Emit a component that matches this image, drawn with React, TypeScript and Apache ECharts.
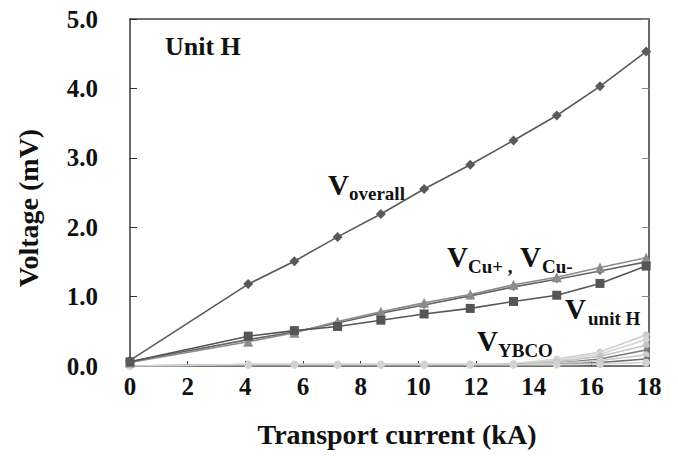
import React, { useEffect, useRef } from "react";
import * as echarts from "echarts";

// Transport current (kA)
const currents = [0, 4.1, 5.7, 7.2, 8.7, 10.2, 11.8, 13.3, 14.8, 16.3, 17.9];
// Voltages (mV)
const vOverall = [0.08, 1.18, 1.51, 1.86, 2.19, 2.55, 2.9, 3.25, 3.61, 4.03, 4.53];
const vCuPlus = [0.05, 0.35, 0.48, 0.64, 0.78, 0.91, 1.03, 1.17, 1.28, 1.42, 1.56];
const vCuMinus = [0.06, 0.38, 0.49, 0.62, 0.76, 0.88, 1.01, 1.14, 1.25, 1.37, 1.5];
const vUnitH = [0.06, 0.43, 0.51, 0.57, 0.66, 0.75, 0.83, 0.93, 1.02, 1.19, 1.44];
const ybcoA = [0.0, 0.02, 0.02, 0.02, 0.02, 0.02, 0.02, 0.03, 0.1, 0.2, 0.45];
const ybcoB = [0.0, 0.02, 0.02, 0.02, 0.02, 0.02, 0.02, 0.03, 0.08, 0.17, 0.38];
const ybcoC = [0.0, 0.02, 0.02, 0.02, 0.02, 0.02, 0.02, 0.02, 0.06, 0.14, 0.3];
const ybcoD = [0.0, 0.01, 0.01, 0.01, 0.01, 0.01, 0.01, 0.02, 0.04, 0.1, 0.23];
const ybcoE = [0.0, 0.02, 0.02, 0.02, 0.02, 0.02, 0.02, 0.02, 0.04, 0.08, 0.16];
const ybcoF = [0.0, 0.01, 0.01, 0.01, 0.01, 0.01, 0.01, 0.01, 0.02, 0.05, 0.1];
const ybcoG = [0.0, 0.02, 0.02, 0.02, 0.02, 0.02, 0.02, 0.02, 0.02, 0.03, 0.05];

const xTicks = [0, 18, 2];
const yTicks = [0, 5, 1];

const FONT = '"Liberation Serif", "Times New Roman", serif';

const pairs = (ys: number[]) => currents.map((x, i) => [x, ys[i]]);

export default function App() {
  const ref = useRef<HTMLDivElement>(null);
  useEffect(() => {
    if (!ref.current) return;
    const chart = echarts.init(ref.current, null, { renderer: "svg" });

    const line = (
      name: string,
      ys: number[],
      color: string,
      symbol: string,
      symbolSize: number,
      z = 2
    ) => ({
      name,
      type: "line",
      data: pairs(ys),
      symbol,
      symbolSize,
      z,
      lineStyle: { color, width: 1.6 },
      itemStyle: { color },
    });

    const txt = (
      text: string,
      x: number,
      y: number,
      size: number,
      extra: any = {}
    ) => ({
      type: "text",
      x,
      y,
      z: 100,
      style: {
        text,
        fontSize: size,
        fontWeight: "bold",
        fontFamily: FONT,
        fill: "#111",
        align: "left",
        verticalAlign: "middle",
        ...extra,
      },
    });

    chart.setOption({
      animation: false,
      backgroundColor: "#fff",
      grid: { left: 130, right: 29, top: 19, bottom: 91, containLabel: false },
      xAxis: [
        {
          type: "value",
          min: xTicks[0],
          max: xTicks[1],
          interval: xTicks[2],
          axisLine: { show: true, onZero: false, lineStyle: { color: "#444", width: 1.6 } },
          axisTick: { show: true, inside: true, length: 5, lineStyle: { color: "#333" } },
          axisLabel: {
            fontSize: 25,
            fontWeight: "bold",
            fontFamily: FONT,
            color: "#111",
            margin: 8,
          },
          splitLine: { show: false },
        },
        {
          type: "value",
          position: "top",
          min: xTicks[0],
          max: xTicks[1],
          interval: xTicks[2],
          axisLine: { show: true, onZero: false, lineStyle: { color: "#444", width: 1.6 } },
          axisTick: { show: false },
          axisLabel: { show: false },
          splitLine: { show: false },
        },
      ],
      yAxis: [
        {
          type: "value",
          min: yTicks[0],
          max: yTicks[1],
          interval: yTicks[2],
          axisLine: { show: true, onZero: false, lineStyle: { color: "#444", width: 1.6 } },
          axisTick: { show: true, inside: true, length: 7, lineStyle: { color: "#333" } },
          axisLabel: {
            fontSize: 25,
            fontWeight: "bold",
            fontFamily: FONT,
            color: "#111",
            margin: 32,
            formatter: (v: number) => v.toFixed(1),
          },
          splitLine: { show: false },
        },
        {
          type: "value",
          position: "right",
          min: yTicks[0],
          max: yTicks[1],
          interval: yTicks[2],
          axisLine: { show: true, onZero: false, lineStyle: { color: "#444", width: 1.6 } },
          axisTick: { show: true, inside: true, length: 7, lineStyle: { color: "#888" } },
          axisLabel: { show: false },
          splitLine: { show: false },
        },
      ],
      series: [
        line("YBCO A", ybcoA, "#cfcfcf", "circle", 7, 1),
        line("YBCO B", ybcoB, "#d6d6d6", "circle", 7, 1),
        line("YBCO C", ybcoC, "#c4c4c4", "circle", 7, 1),
        line("YBCO D", ybcoD, "#7a7a7a", "circle", 5, 1),
        line("YBCO E", ybcoE, "#cccccc", "circle", 7, 1),
        line("YBCO F", ybcoF, "#6a6a6a", "circle", 5, 1),
        line("YBCO G", ybcoG, "#d2d2d2", "circle", 8, 1),
        line("V Cu-", vCuMinus, "#666666", "diamond", 8, 2),
        line("V Cu+", vCuPlus, "#8c8c8c", "triangle", 10, 3),
        line("V unit H", vUnitH, "#555555", "rect", 9, 4),
        line("V overall", vOverall, "#5a5a5a", "diamond", 10, 5),
      ],
      graphic: [
        txt("Unit H", 165, 46, 26),
        txt("V", 328, 185, 29),
        txt("overall", 349, 193, 19),
        txt("V", 447, 257, 29),
        txt("Cu+ ,", 468, 266, 19),
        txt("V", 520, 257, 29),
        txt("Cu-", 542, 266, 19),
        txt("V", 565, 309, 29),
        txt("unit H", 588, 318, 19),
        txt("V", 477, 341, 29),
        txt("YBCO", 498, 350, 19),
        txt("Transport current (kA)", 397, 434, 28, { align: "center" }),
        {
          type: "text",
          x: 28,
          y: 208,
          rotation: Math.PI / 2,
          z: 100,
          style: {
            text: "Voltage (mV)",
            fontSize: 28,
            fontWeight: "bold",
            fontFamily: FONT,
            fill: "#111",
            align: "center",
            verticalAlign: "middle",
          },
        },
      ],
    });
    return () => chart.dispose();
  }, []);
  return (
    <div
      ref={ref}
      style={{ position: "fixed", left: 0, top: 0, width: 678, height: 457 }}
    />
  );
}
